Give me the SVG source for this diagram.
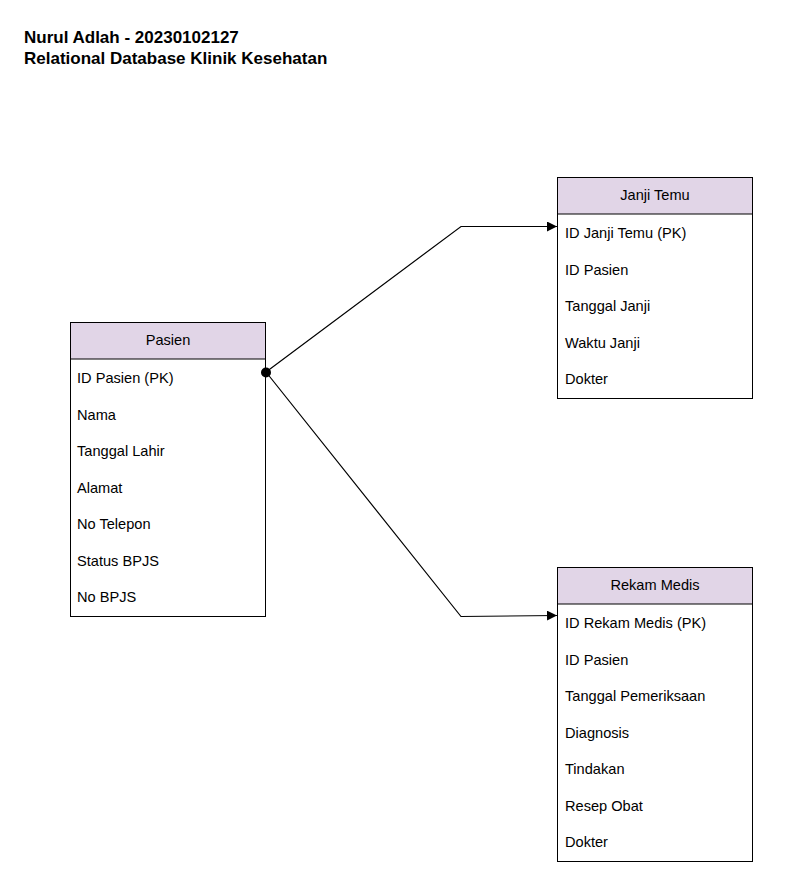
<svg xmlns="http://www.w3.org/2000/svg" width="809" height="877" viewBox="0 0 809 877">
<style>
.box{fill:#ffffff;stroke:#000000;stroke-width:1}
.hdr{fill:#e1d5e7;stroke:#000000;stroke-width:1}
.t{font-family:"Liberation Sans",Arial,sans-serif;font-size:14.6px;fill:#000000}
.h{text-anchor:middle}
.title{font-family:"Liberation Sans",Arial,sans-serif;font-size:17px;font-weight:bold;fill:#000000}
.conn{fill:none;stroke:#000000;stroke-width:1.2}
</style>
<defs>
<marker id="arr" viewBox="0 0 10 10" refX="10" refY="5" markerWidth="10" markerHeight="10" markerUnits="userSpaceOnUse" orient="auto">
<path d="M0,0 L10,5 L0,10 Z" fill="#000000"/>
</marker>
</defs>
<rect width="809" height="877" fill="#ffffff"/>
<g id="title">
<text class="title" x="24" y="43">Nurul Adlah - 20230102127</text>
<text class="title" x="24" y="64">Relational Database Klinik Kesehatan</text>
</g>
<g id="pasien">
<rect class="box" x="70.5" y="322.5" width="195" height="294"/>
<rect class="hdr" x="70.5" y="322.5" width="195" height="36.5"/>
<text class="t h" x="168" y="345">Pasien</text>
<text class="t" x="77" y="383">ID Pasien (PK)</text>
<text class="t" x="77" y="419.5">Nama</text>
<text class="t" x="77" y="456">Tanggal Lahir</text>
<text class="t" x="77" y="492.5">Alamat</text>
<text class="t" x="77" y="529">No Telepon</text>
<text class="t" x="77" y="565.5">Status BPJS</text>
<text class="t" x="77" y="602">No BPJS</text>
</g>
<g id="janji-temu">
<rect class="box" x="557.5" y="177.5" width="195" height="221"/>
<rect class="hdr" x="557.5" y="177.5" width="195" height="36.5"/>
<text class="t h" x="655" y="200">Janji Temu</text>
<text class="t" x="565" y="238">ID Janji Temu (PK)</text>
<text class="t" x="565" y="274.5">ID Pasien</text>
<text class="t" x="565" y="311">Tanggal Janji</text>
<text class="t" x="565" y="347.5">Waktu Janji</text>
<text class="t" x="565" y="384">Dokter</text>
</g>
<g id="rekam-medis">
<rect class="box" x="557.5" y="567.5" width="195" height="294"/>
<rect class="hdr" x="557.5" y="567.5" width="195" height="36.5"/>
<text class="t h" x="655" y="590">Rekam Medis</text>
<text class="t" x="565" y="628">ID Rekam Medis (PK)</text>
<text class="t" x="565" y="664.5">ID Pasien</text>
<text class="t" x="565" y="701">Tanggal Pemeriksaan</text>
<text class="t" x="565" y="737.5">Diagnosis</text>
<text class="t" x="565" y="774">Tindakan</text>
<text class="t" x="565" y="810.5">Resep Obat</text>
<text class="t" x="565" y="847">Dokter</text>
</g>
<g id="connectors">
<path class="conn" d="M266,372 L461,226.5 L557,226.5" marker-end="url(#arr)"/>
<path class="conn" d="M266,372 L461,616.5 L557,615.5" marker-end="url(#arr)"/>
<circle cx="266" cy="372.5" r="5" fill="#000000"/>
</g>
</svg>
